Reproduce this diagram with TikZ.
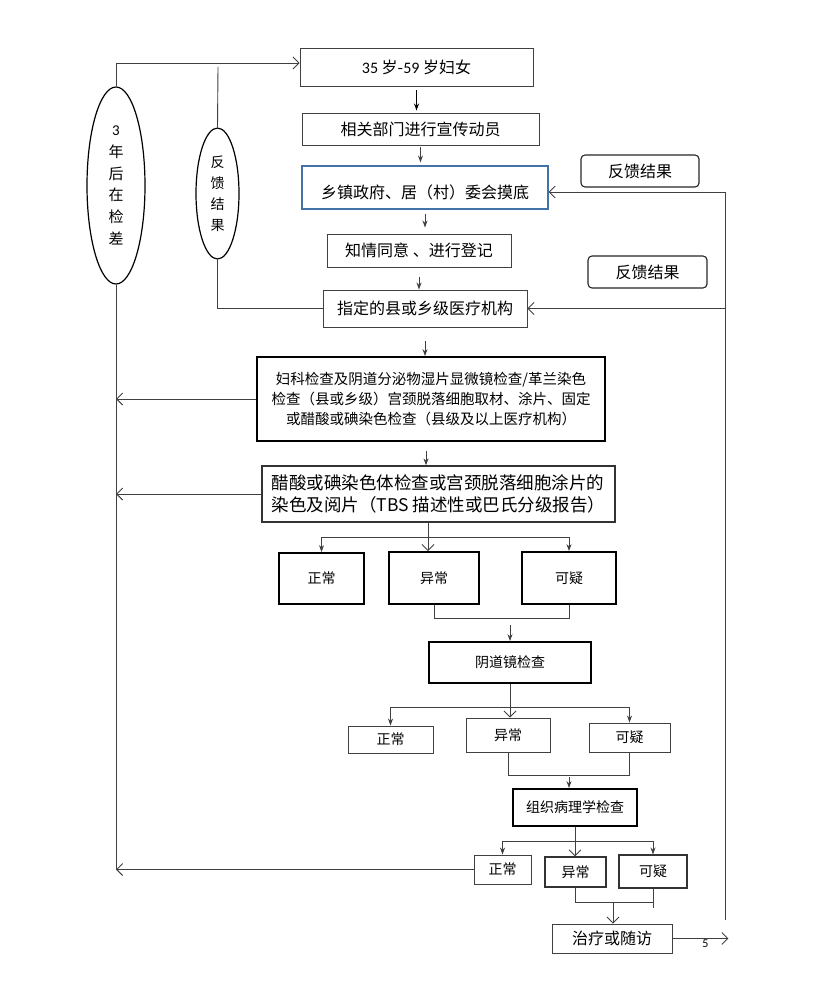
\documentclass[tikz,border=0pt]{standalone}
\usepackage{fontspec}
\setmainfont{Noto Sans CJK SC}
\newfontfamily\latinfont{Carlito}
\usetikzlibrary{arrows.meta, shapes.geometric}

\begin{document}
\begin{tikzpicture}[
        x=1pt, y=-1pt,
        font=\fontsize{16}{19}\selectfont,
        box/.style={rectangle, draw=black!75, line width=0.9pt, inner sep=0pt, align=center},
        heavybox/.style={box, draw=black, line width=1.8pt},
        midbox/.style={box, draw=black!80, line width=1.1pt},
        bluebox/.style={box, draw={rgb,255:red,68;green,114;blue,166}, line width=1.1pt},
        roundbox/.style={box, draw=black!85, line width=1.1pt, rounded corners=4pt},
        oval/.style={ellipse, draw, line width=1.2pt, inner sep=0pt, align=center},
        small/.style={font=\fontsize{14}{16}\selectfont},
        link/.style={draw=black!75, line width=0.9pt},
        fill tip/.style={link, -{Stealth[length=7pt,width=5pt]}},
        open tip/.style={link, -{Straight Barb[length=6pt,width=12pt]}}
    ]
    \useasboundingbox (0,0) rectangle (828,992);

        % Main column
        \node[box, minimum width=233pt, minimum height=38pt] (women) at (416.5,67)
            {{\latinfont 35} 岁-{\latinfont 59} 岁妇女};
        \node[box, minimum width=237pt, minimum height=32pt] (publicity) at (420.5,129) {相关部门进行宣传动员};
        \node[bluebox, minimum width=246pt, minimum height=43pt, text height=27pt, text depth=4pt]
            (survey) at (425,187.5) {乡镇政府、居（村）委会摸底};
        \node[box, minimum width=184pt, minimum height=33pt] (consent) at (419,250.5) {知情同意 、进行登记};
        \node[box, minimum width=204pt, minimum height=37pt] (clinic) at (425,308.5) {指定的县或乡级医疗机构};
        \node[heavybox, minimum width=348pt, minimum height=84pt, font=\fontsize{14.5}{20}\selectfont]
            (screen) at (431,399)
            {妇科检查及阴道分泌物湿片显微镜检查/革兰染色\\
             检查（县或乡级）宫颈脱落细胞取材、涂片、固定\\
             或醋酸或碘染色检查（县级及以上医疗机构）};
        \node[midbox, line width=1.3pt, minimum width=353pt, minimum height=56pt, align=left, font=\fontsize{17.5}{22}\selectfont]
            (stain) at (438.5,494)
            {醋酸或碘染色体检查或宫颈脱落细胞涂片的\\
             染色及阅片（TBS 描述性或巴氏分级报告）};

        % First results
        \node[heavybox, small, minimum width=85pt, minimum height=51pt] (normA) at (321.5,578.5) {正常};
        \node[heavybox, small, minimum width=90pt, minimum height=52pt] (abnA) at (434,578) {异常};
        \node[heavybox, small, minimum width=94pt, minimum height=52pt] (suspA) at (569,578) {可疑};
        \node[heavybox, small, minimum width=162pt, minimum height=41pt] (colpo) at (510,662.5) {阴道镜检查};

        % Colposcopy results
        \node[box, small, minimum width=85pt, minimum height=27pt] (normB) at (390.5,739.5) {正常};
        \node[box, small, minimum width=84pt, minimum height=34pt] (abnB) at (508,735) {异常};
        \node[box, small, minimum width=81pt, minimum height=29pt] (suspB) at (629.5,737.5) {可疑};
        \node[heavybox, small, minimum width=124pt, minimum height=37pt] (histo) at (575,807.5) {组织病理学检查};

        % Histology results
        \node[box, small, minimum width=57pt, minimum height=29pt] (normC) at (502.5,869.5) {正常};
        \node[midbox, small, minimum width=61pt, minimum height=30pt] (abnC) at (575.5,872) {异常};
        \node[midbox, small, minimum width=68pt, minimum height=33pt] (suspC) at (653,871.5) {可疑};
        \node[box, minimum width=120pt, minimum height=29pt] (treat) at (612,938.5) {治疗或随访};

        % Feedback and recall
        \node[roundbox, minimum width=118pt, minimum height=32pt] (fbA) at (640,171) {反馈结果};
        \node[roundbox, minimum width=119pt, minimum height=32pt] (fbB) at (647.5,272) {反馈结果};
        \node[oval, minimum width=58pt, minimum height=197pt, font=\fontsize{15}{21.7}\selectfont]
            (ovalA) at (116,185.5) {{\latinfont 3}\\年\\后\\在\\检\\差};
        \node[oval, minimum width=43pt, minimum height=131pt, font=\fontsize{14}{21}\selectfont]
            (ovalB) at (217.5,193.5) {反\\馈\\结\\果};

        \coordinate (fbtop) at (218,67);
        \coordinate (rtop) at (725,192);
        \coordinate (rbot) at (725,920);
        \coordinate (jA) at (428,537);
        \coordinate (mA) at (510,618);
        \coordinate (jB) at (509,707);
        \coordinate (mB) at (569,775);
        \coordinate (jC) at (576,841);
        \coordinate (mC) at (613,902);

        % Top column arrows
        \draw[fill tip, draw=black, line width=1.5pt, shorten <=4pt, shorten >=2pt] (women.south) -- (women.south |- publicity.north);
        \draw[fill tip, shorten <=2pt, shorten >=3pt] (publicity.south) -- (publicity.south |- survey.north);
        \draw[fill tip, shorten <=4pt, shorten >=6pt] (survey.south) -- (survey.south |- consent.north);
        \draw[fill tip, shorten <=10pt] (consent.south) -- (consent.south |- clinic.north);
        \draw[fill tip, shorten <=14pt] (clinic.south) -- (clinic.south |- screen.north);
        \draw[fill tip, shorten <=9pt] ([xshift=-5pt]screen.south) -- ([xshift=-5pt]screen.south |- stain.north);

        % First branching
        \draw[open tip] ([xshift=-10.5pt]stain.south) -- ([xshift=-10.5pt]stain.south |- abnA.north);
        \draw[link] (jA -| normA) -- (jA -| suspA);
        \draw[fill tip] (jA -| normA) -- (normA.north);
        \draw[fill tip] (jA -| suspA) -- (suspA.north);
        \draw[link] (abnA.south) -- (abnA.south |- mA) -- (suspA.south |- mA) -- (suspA.south);
        \draw[fill tip, shorten <=7pt] (mA) -- (colpo.north);

        % Second branching
        \draw[open tip] (colpo.south) -- (colpo.south |- abnB.north);
        \draw[link] (jB -| normB) -- (jB -| suspB);
        \draw[fill tip] (jB -| normB) -- (normB.north);
        \draw[fill tip] (jB -| suspB) -- (suspB.north);
        \draw[link] (abnB.south) -- (abnB.south |- mB) -- (suspB.south |- mB) -- (suspB.south);
        \draw[fill tip, shorten <=2pt] (mB) -- (mB |- histo.north);

        % Third branching
        \draw[open tip] (histo.south) -- (histo.south |- abnC.north);
        \draw[link] (jC -| normC) -- (jC -| suspC);
        \draw[fill tip] (jC -| normC) -- (normC.north);
        \draw[fill tip] (jC -| suspC) -- (suspC.north);
        \draw[link] (abnC.south) -- (abnC.south |- mC) -- (suspC.south |- mC) -- ++(0,6);
        \draw[link] (suspC.south) -- (suspC.south |- mC);
        \draw[open tip] (mC) -- (mC |- treat.north);
        \draw[open tip] (treat.east) -- ++(56,0)
            node[pos=0.59, below=0pt, inner sep=1pt, font=\latinfont\fontsize{12}{12}\selectfont] {5};

        % Left loop
        \draw[open tip] (ovalA.north) |- ([yshift=4pt]women.west);
        \draw[link] (ovalA.south) -- (ovalA.south |- normC.west);
        \draw[open tip] (screen.west) -- (screen.west -| ovalA.south);
        \draw[open tip] (stain.west) -- (stain.west -| ovalA.south);
        \draw[open tip] (normC.west) -- (normC.west -| ovalA.south);
        \draw[link] (ovalB.north) -- (fbtop);
        \draw[link] (ovalB.south) |- (clinic.west);

        % Right loop
        \draw[open tip] (rbot) -- (rtop) -- (rtop -| survey.east);
        \draw[open tip] (rbot |- clinic.east) -- (clinic.east);

\end{tikzpicture}
\end{document}
